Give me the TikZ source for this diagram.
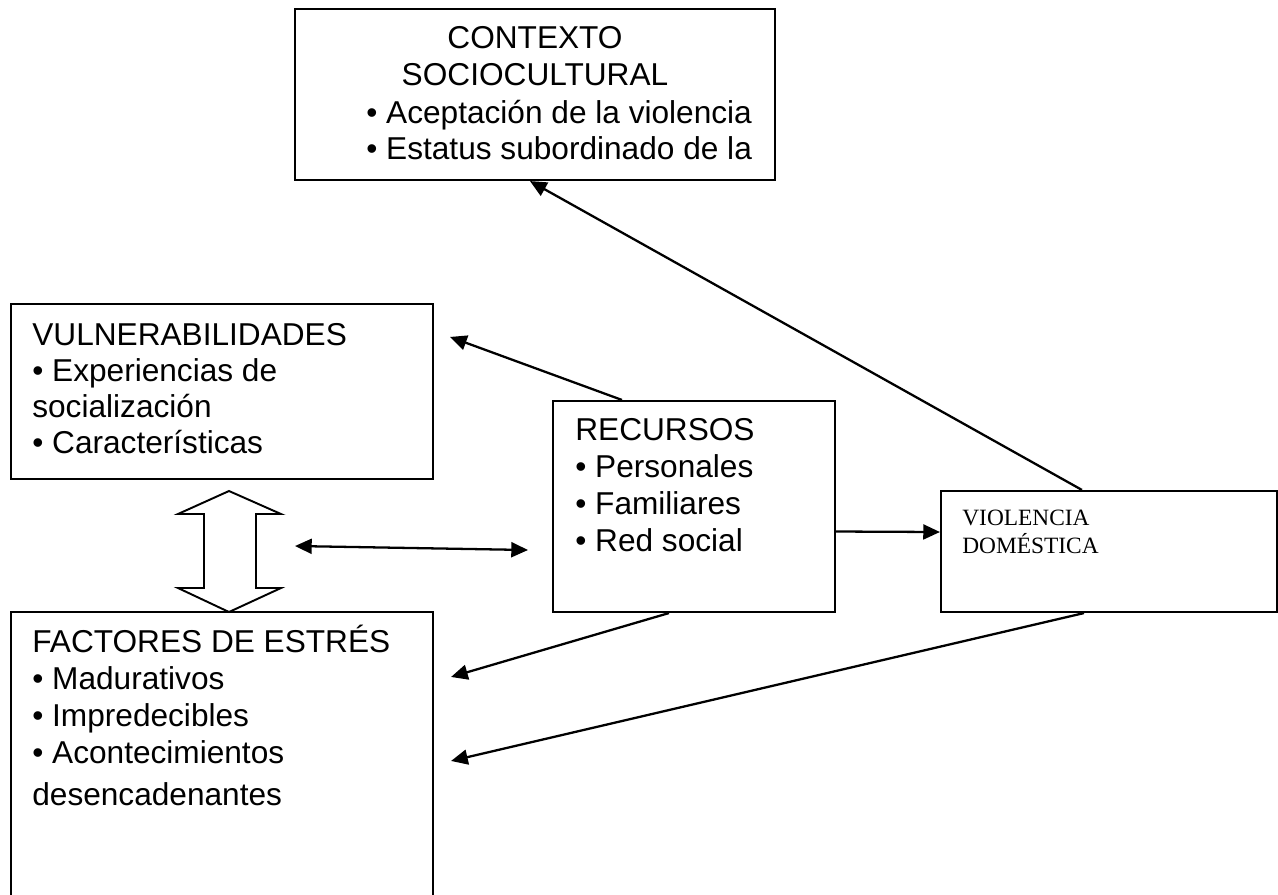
\documentclass[tikz,border=0pt]{standalone}
\usepackage{fontspec}
\setmainfont{Liberation Sans}
\newfontfamily\timesfont{Liberation Serif}
\usetikzlibrary{arrows.meta,calc,fit}

\begin{document}
\begin{tikzpicture}[x=0.02cm, y=-0.02cm,
        box/.style={draw, line width=1.2pt, inner sep=0pt},
        txt/.style={anchor=base west, inner sep=0pt, font=\fontsize{18}{21}\selectfont},
        arr/.style={line width=1.3pt, -{Triangle[length=9.5pt, width=8.5pt]}}]
        \clip (0,0) rectangle (1278,894);

        % boxes
        \node[box, fit={(295,9) (775,180)}] (ctx) {};
        \node[box, fit={(11,304) (433,479)}] (vul) {};
        \node[box, fit={(553,401) (835,612)}] (rec) {};
        \node[box, fit={(941,491) (1277,612)}] (vio) {};
        \node[box, fit={(11,612) (433,930)}] (fac) {};

        % texts
        \node[txt, anchor=base] (ctx1) at (535,48) {CONTEXTO};
        \node[txt, anchor=base] (ctx2) at (535,85) {SOCIOCULTURAL};
        \node[txt] (ctx3) at (366,123) {\textbullet{} Aceptación de la violencia};
        \node[txt] (ctx4) at (366,159) {\textbullet{} Estatus subordinado de la};
        \foreach \t [count=\i] in {VULNERABILIDADES, \textbullet{} Experiencias de, socialización, \textbullet{} Características}
            \node[txt] (vul\i) at (32, {309+36*\i}) {\t};
        \foreach \t [count=\i] in {RECURSOS, \textbullet{} Personales, \textbullet{} Familiares, \textbullet{} Red social}
            \node[txt] (rec\i) at (575, {403+37*\i}) {\t};
        \foreach \t [count=\i] in {FACTORES DE ESTRÉS, \textbullet{} Madurativos, \textbullet{} Impredecibles, \textbullet{} Acontecimientos}
            \node[txt] (fac\i) at (32, {615+37*\i}) {\t};
        \node[txt] (fac5) at (32,805) {desencadenantes};
        \node[txt, font=\timesfont\fontsize{13.3}{16}\selectfont] (vio1) at (962,525) {VIOLENCIA};
        \node[txt, font=\timesfont\fontsize{13.3}{16}\selectfont] (vio2) at (962,553) {DOMÉSTICA};

        % hollow double arrow
        \draw[line width=1.1pt] (229,491) -- (281,514) -- (256,514) -- (256,588) -- (281,588)
            -- (229,612) -- (178,588) -- (204,588) -- (204,514) -- (178,514) -- cycle;

        % connectors
        \coordinate (dl) at (295,546);
        \coordinate (dr) at (528,550);
        \draw[arr, {Triangle[length=9.5pt, width=8.5pt]}-{Triangle[length=9.5pt, width=8.5pt]}] (dl) -- (dr);
        \draw[arr] ($(vio.north west)+(142,0)$) -- ($(ctx.south west)+(236,0)$);
        \draw[arr] ($(rec.north west)+(70,0)$) -- ($(vul.north east)+(16,34)$);
        \draw[arr] ($(rec.east)+(0,25)$) -- ($(vio.west)+(0,-19.5)$);
        \draw[arr] ($(rec.south west)+(117,0)$) -- ($(fac.north east)+(17,66)$);
        \draw[arr] ($(vio.south west)+(144,0)$) -- ($(fac.north east)+(17,150)$);
    \end{tikzpicture}
\end{document}
